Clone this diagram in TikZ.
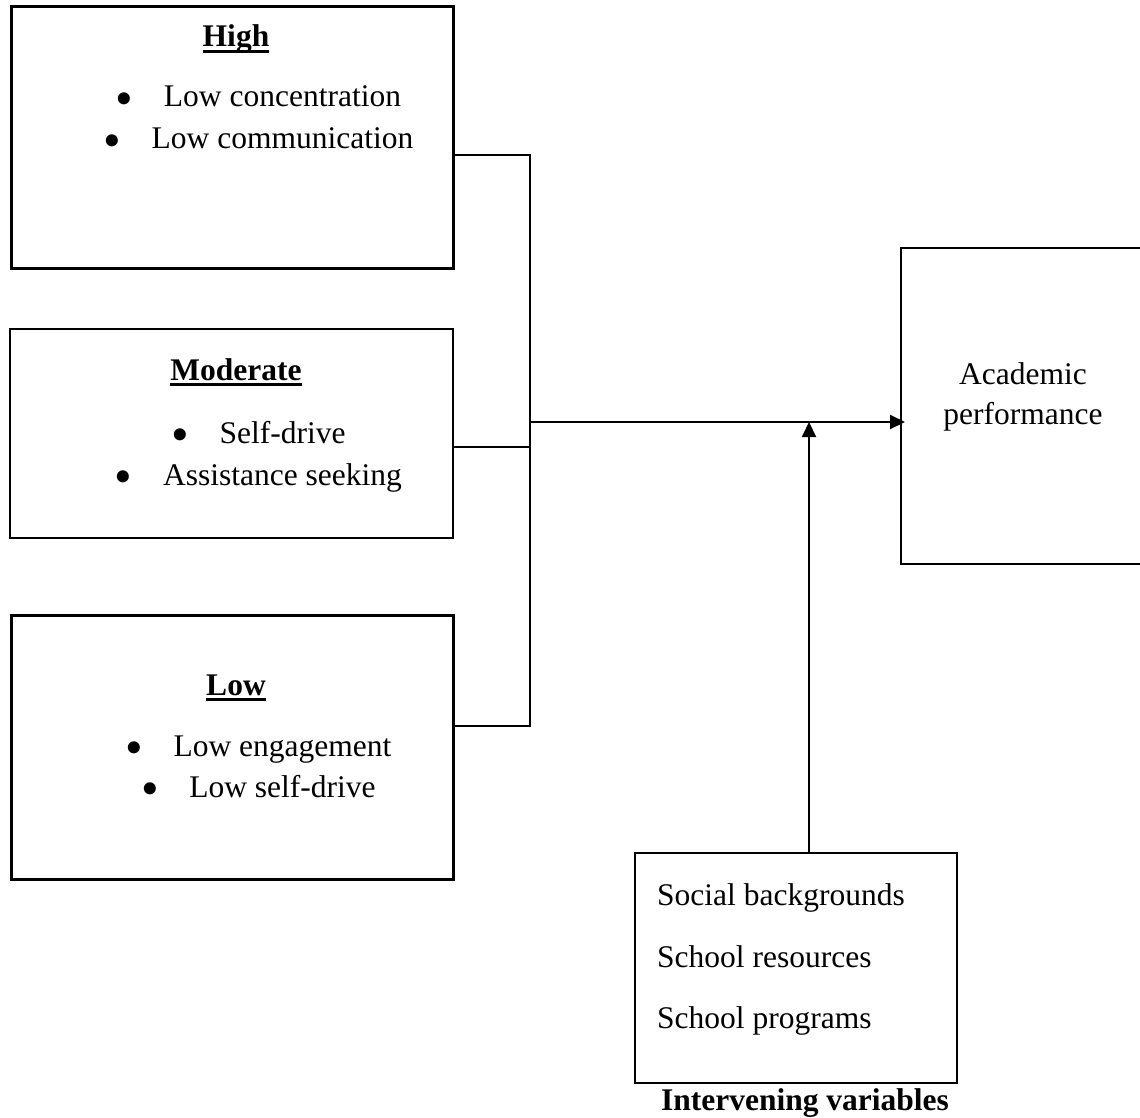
\documentclass[tikz,border=0pt]{standalone}
\usepackage{fontspec}
\setmainfont{Liberation Serif}
\usetikzlibrary{arrows.meta}
\newcommand\myul[1]{\setbox0\hbox{#1}\makebox[0pt][l]{\rule[-6pt]{\wd0}{2.6pt}}\box0}
\newcommand\mybul{\makebox[11pt]{\raisebox{-8.5pt}{\scalebox{1.6}{\textbullet}}}}
\tikzset{
  txt/.style={inner sep=0pt, font=\fontsize{31.5pt}{38pt}\selectfont, anchor=base},
  lefttxt/.style={txt, anchor=base west},
  headtxt/.style={txt, font=\fontsize{31.5pt}{38pt}\selectfont\bfseries},
  thickbox/.style={draw, line width=3pt, inner sep=0pt, rectangle},
  thinbox/.style={draw, line width=2pt, inner sep=0pt, rectangle},
  conn/.style={line width=2pt},
  arr/.style={line width=2pt, -{Triangle[length=15pt,width=14pt]}}
}
\begin{document}
\begin{tikzpicture}[x=1pt,y=-1pt]
\useasboundingbox (0,0) rectangle (1140,1118);
\clip (0,0) rectangle (1140,1118);
% boxes
\node[thickbox, minimum width=442pt, minimum height=261pt] (high) at (232,137.5) {};
\node[thinbox, minimum width=443pt, minimum height=209pt] (mod) at (231.5,433.5) {};
\node[thickbox, minimum width=442pt, minimum height=264pt] (low) at (232,747) {};
\node[thinbox, minimum width=249pt, minimum height=316pt] (acad) at (1025.5,406) {};
\node[thinbox, minimum width=322pt, minimum height=230pt] (interv) at (796,968) {};
% texts
\node[headtxt] (th) at (236,47) {\myul{High}};
\node[txt] (th1) at (260,107) {\mybul\hspace{34pt}Low concentration};
\node[txt] (th2) at (260,149) {\mybul\hspace{34pt}Low communication};
\node[headtxt] (tm) at (236,380) {\myul{Moderate}};
\node[txt] (tm1) at (260,443) {\mybul\hspace{34pt}Self-drive};
\node[txt] (tm2) at (260,485) {\mybul\hspace{34pt}Assistance seeking};
\node[headtxt] (tl) at (236,695) {\myul{Low}};
\node[txt] (tl1) at (260,756) {\mybul\hspace{34pt}Low engagement};
\node[txt] (tl2) at (260,797) {\mybul\hspace{34pt}Low self-drive};
\node[txt] (ta1) at (1023,384) {Academic};
\node[txt] (ta2) at (1023,424) {performance};
\node[lefttxt] (ti1) at (657,905) {Social backgrounds};
\node[lefttxt] (ti2) at (657,967) {School resources};
\node[lefttxt] (ti3) at (657,1028) {School programs};
\node[headtxt] (tiv) at (805,1110) {Intervening variables};
% connectors
\coordinate (hh) at (530,155);
\coordinate (hm) at (530,447);
\coordinate (hl) at (530,726);
\coordinate (hub) at (530,422);
\coordinate (iv) at (809,422);
\draw[conn] (high.east |- hh) -- (hh) -- (hl) -- (low.east |- hl);
\draw[conn] (mod.east |- hm) -- (hm);
\draw[arr] (hub) -- ([xshift=5pt]acad.west |- hub);
\draw[arr] (interv.north -| iv) -- (iv);
\end{tikzpicture}
\end{document}
